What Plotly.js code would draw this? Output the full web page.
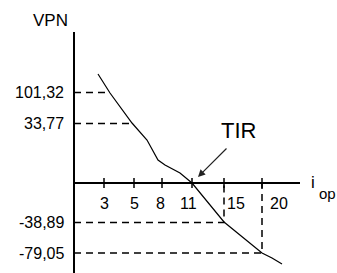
<!DOCTYPE html>
<html>
<head>
<meta charset="utf-8">
<script src="https://cdn.plot.ly/plotly-3.0.1.min.js"></script>
<style>html,body{margin:0;padding:0;background:#fff;}#chart{width:337px;height:273px;}</style>
</head>
<body>
<div id="chart"></div>
<script>
// Schematic chart: VPN versus interest rate i_op (drawing units, not to scale)
const xTickLabels = ['3', '5', '8', '11', '15', '20'];
const xTickPos    = [3.0, 6.0, 8.8, 11.8, 15.0, 18.8];

const yTickLabels = ['101,32', '33,77', '-38,89', '-79,05'];
const yTickPos    = [9.05, 5.95, -3.95, -7.0];
const yMarkX      = [3.5, 5.8, 15.0, 18.8];   // where each level meets the curve

const curveX = [2.4, 3.6, 5.8, 7.3, 8.4, 9.1, 10.6, 11.8, 15.0, 18.8, 19.8, 20.8];
const curveY = [10.9, 9.0, 6.0, 4.3, 2.3, 1.8, 1.0, 0.0, -3.9, -7.0, -7.5, -8.1];

const FONT = 'Liberation Sans, Arial, sans-serif';
const traces = [];

// dashed guide lines
yTickPos.forEach((y, i) => {
  const xs = [0, yMarkX[i]];
  const ys = [y, y];
  if (y < 0) { xs.push(yMarkX[i]); ys.push(0); }
  traces.push({
    x: xs, y: ys, mode: 'lines', hoverinfo: 'skip', showlegend: false,
    line: {color: '#000', width: 1.5, dash: '7px,5px'}
  });
});

// axes
traces.push({x: [0, 0], y: [-9.5, 15.1], mode: 'lines', showlegend: false, hoverinfo: 'skip',
  line: {color: '#000', width: 2}});
traces.push({x: [0, 22.6], y: [0, 0], mode: 'lines', showlegend: false, hoverinfo: 'skip',
  line: {color: '#000', width: 2}});

// x ticks
traces.push({x: xTickPos, y: xTickPos.map(() => 0), mode: 'markers', showlegend: false, hoverinfo: 'skip',
  marker: {symbol: 'line-ns-open', size: 7, color: '#000', line: {color: '#000', width: 1.5}}});

// VPN curve
traces.push({x: curveX, y: curveY, mode: 'lines', showlegend: false,
  line: {color: '#000', width: 1.2}});

const xLabelShift = [0, 0, -2, -4, 12, 17];
const annotations = [];
xTickLabels.forEach((t, i) => annotations.push({
  x: xTickPos[i], y: -2.0, xref: 'x', yref: 'y', text: t, showarrow: false,
  xshift: xLabelShift[i], xanchor: 'center', yanchor: 'middle',
  font: {family: FONT, size: 16, color: '#000'}
}));
yTickLabels.forEach((t, i) => annotations.push({
  x: 0, y: yTickPos[i], xref: 'x', yref: 'y', text: t, showarrow: false,
  xshift: -8, xanchor: 'right', yanchor: 'middle',
  font: {family: FONT, size: 16, color: '#000'}
}));
annotations.push({x: -2.4, y: 16.25, xref: 'x', yref: 'y', text: 'VPN', showarrow: false,
  xanchor: 'center', yanchor: 'middle', font: {family: FONT, size: 17, color: '#000'}});
annotations.push({x: 16.4, y: 5.3, xref: 'x', yref: 'y', text: 'TIR', showarrow: false,
  xanchor: 'center', yanchor: 'middle', font: {family: FONT, size: 22, color: '#000'}});
annotations.push({x: 12.4, y: 0.6, ax: 15.4, ay: 3.6, xref: 'x', yref: 'y', axref: 'x', ayref: 'y',
  text: '', showarrow: true, arrowhead: 2, arrowsize: 1.2, arrowwidth: 1.2, arrowcolor: '#222'});
annotations.push({x: 23.9, y: 0.1, xref: 'x', yref: 'y', text: 'i', showarrow: false,
  xanchor: 'center', yanchor: 'middle', font: {family: FONT, size: 17, color: '#000'}});
annotations.push({x: 24.3, y: -1.0, xref: 'x', yref: 'y', text: 'op', showarrow: false,
  xanchor: 'left', yanchor: 'middle', font: {family: FONT, size: 15, color: '#000'}});

const layout = {
  width: 337, height: 273,
  margin: {l: 0, r: 0, t: 0, b: 0, pad: 0},
  paper_bgcolor: '#fff', plot_bgcolor: '#fff',
  xaxis: {range: [-7.4, 26.3], visible: false, fixedrange: true},
  yaxis: {range: [-9.0, 18.3], visible: false, fixedrange: true},
  showlegend: false,
  annotations: annotations
};

Plotly.newPlot('chart', traces, layout, {displayModeBar: false, staticPlot: true});
</script>
</body>
</html>
